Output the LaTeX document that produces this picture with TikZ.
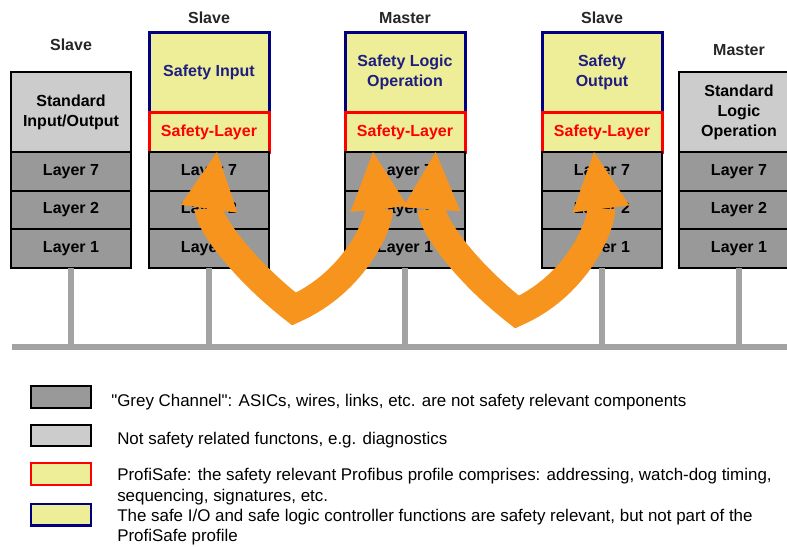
\documentclass[tikz,border=0pt]{standalone}
\usepackage{fontspec}
\setmainfont{Liberation Sans}
\usetikzlibrary{positioning,arrows.meta}

\definecolor{layergrey}{RGB}{153,153,153}
\definecolor{stdgrey}{RGB}{204,204,204}
\definecolor{safeyellow}{RGB}{238,238,153}
\definecolor{safeblue}{RGB}{0,0,128}
\definecolor{safetext}{RGB}{30,30,128}
\definecolor{safered}{RGB}{255,0,0}
\definecolor{busgrey}{RGB}{163,163,163}
\definecolor{arroworange}{RGB}{247,148,30}

\begin{document}
\begin{tikzpicture}[x=0.75pt, y=0.75pt, node distance=0pt,
	box/.style={draw, rectangle, outer sep=0pt, inner sep=0pt, minimum width=90pt, align=center, line width=1.5pt, font=\bfseries\fontsize{12}{15}\selectfont},
	layerbox/.style={box, fill=layergrey, minimum height=29pt},
	stdbox/.style={box, fill=stdgrey, minimum height=60pt},
	appbox/.style={box, fill=safeyellow, draw=safeblue, text=safetext, line width=2.25pt, minimum height=60pt},
	safebox/.style={box, fill=safeyellow, draw=safered, text=safered, line width=2.25pt, minimum height=30pt},
	head/.style={font=\bfseries\fontsize{12}{15}\selectfont, text=black!85},
	stub/.style={draw=busgrey, line width=5pt},
	channel/.style={draw=arroworange, line width=21pt, line join=miter, {Triangle[width=43pt,length=43pt,line width=0pt]}-{Triangle[width=43pt,length=43pt,line width=0pt]}}]
	
	% Fix the page to the size of the figure.
	\useasboundingbox (0,0) rectangle (787,-546);
	\clip (0,0) rectangle (787,-546);
	
	% Stacks
	\node[stdbox, anchor=north west] (ioapp) at (11,-72) {Standard\\Input/Output};
	\node[layerbox, below=of ioapp] (io7) {Layer 7};
	\node[layerbox, below=of io7] (io2) {Layer 2};
	\node[layerbox, below=of io2] (io1) {Layer 1};
	
	\node[appbox, anchor=north west] (inpapp) at (149,-32) {Safety Input};
	\node[safebox, below=of inpapp] (inpsl) {Safety-Layer};
	\node[layerbox, below=of inpsl] (inp7) {Layer 7};
	\node[layerbox, below=of inp7] (inp2) {Layer 2};
	\node[layerbox, below=of inp2] (inp1) {Layer 1};
	
	\node[appbox, anchor=north west] (logapp) at (345,-32) {Safety Logic\\Operation};
	\node[safebox, below=of logapp] (logsl) {Safety-Layer};
	\node[layerbox, below=of logsl] (log7) {Layer 7};
	\node[layerbox, below=of log7] (log2) {Layer 2};
	\node[layerbox, below=of log2] (log1) {Layer 1};
	
	\node[appbox, anchor=north west] (outapp) at (542,-32) {Safety\\Output};
	\node[safebox, below=of outapp] (outsl) {Safety-Layer};
	\node[layerbox, below=of outsl] (out7) {Layer 7};
	\node[layerbox, below=of out7] (out2) {Layer 2};
	\node[layerbox, below=of out2] (out1) {Layer 1};
	
	\node[stdbox, anchor=north west] (stdapp) at (679,-72) {Standard\\Logic\\Operation};
	\node[layerbox, below=of stdapp] (std7) {Layer 7};
	\node[layerbox, below=of std7] (std2) {Layer 2};
	\node[layerbox, below=of std2] (std1) {Layer 1};
	
	% Headings
	\node[head] (hdio) at (ioapp.north |- 0,-45) {Slave};
	\node[head] (hdinp) at (inpapp.north |- 0,-18) {Slave};
	\node[head] (hdlog) at (logapp.north |- 0,-18) {Master};
	\node[head] (hdout) at (outapp.north |- 0,-18) {Slave};
	\node[head] (hdstd) at (stdapp.north |- 0,-50) {Master};
	
	% Bus
	\coordinate (busL) at (12,-347);
	\coordinate (busR) at (787,-347);
	\draw[stub] (busL) -- (busR);
	\foreach \s in {io1,inp1,log1,out1,std1}
		\draw[stub] (\s.south) -- (\s.south |- busL);
	
	% Safe channel
	\coordinate (bot1) at (294,-309);
	\coordinate (bot2) at (517,-312);
	\draw[channel] ([xshift=6pt]inpsl.south) to[out=-98,in=142] (bot1) to[out=24,in=-84] ([xshift=-24pt]logsl.south);
	\draw[channel] ([xshift=23pt]logsl.south) to[out=-94,in=142] (bot2) to[out=24,in=-83] ([xshift=-6pt]outsl.south);
	
	% Legend
	\begin{scope}[every node/.style={draw, rectangle, line width=1.5pt, minimum width=45pt, minimum height=16pt, inner sep=0pt}]
		\node[fill=layergrey] (lg1) at (61,-397) {};
		\node[fill=stdgrey] (lg2) at (61,-435.5) {};
		\node[fill=safeyellow, draw=safered] (lg3) at (61,-474) {};
		\node[fill=safeyellow, draw=safeblue, line width=2pt] (lg4) at (61,-514.5) {};
	\end{scope}
	\begin{scope}[every node/.style={anchor=north west, inner sep=0pt, align=left, font=\fontsize{12.7}{15.75}\selectfont}]
		\node (tx1) at (111,-394) {\textquotedbl Grey Channel\textquotedbl: ASICs, wires, links, etc. are not safety relevant components};
		\node (tx2) at (117,-432) {Not safety related functons, e.g. diagnostics};
		\node (tx3) at (117,-468) {ProfiSafe: the safety relevant Profibus profile comprises: addressing, watch-dog timing,\\sequencing, signatures, etc.};
		\node[font=\fontsize{12.7}{15}\selectfont] (tx4) at (117,-509) {The safe I/O and safe logic controller functions are safety relevant, but not part of the\\ProfiSafe profile};
	\end{scope}
	
\end{tikzpicture}
\end{document}
